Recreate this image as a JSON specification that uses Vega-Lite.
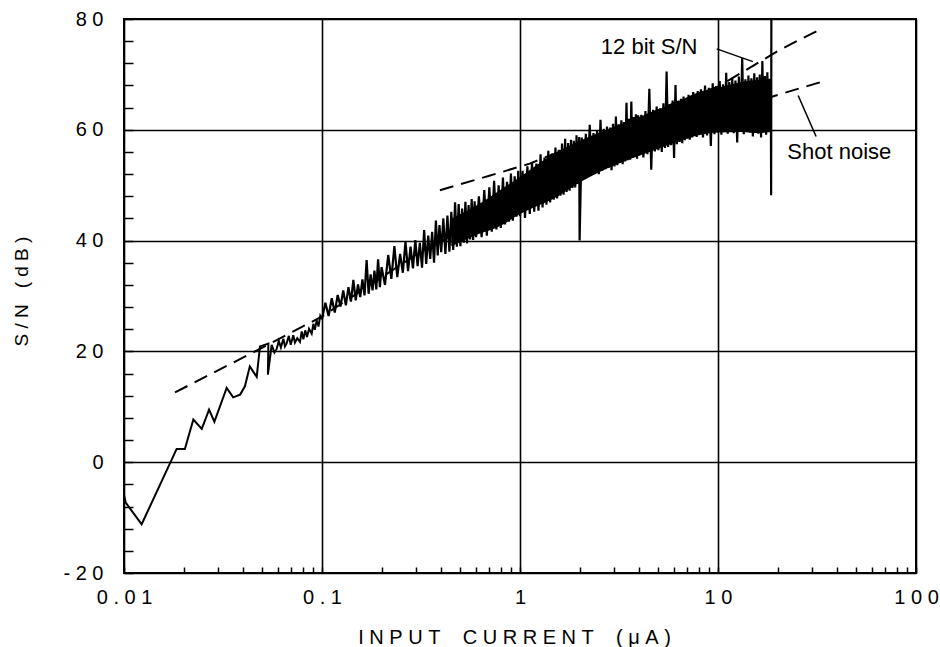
{
  "$schema": "https://vega.github.io/schema/vega-lite/v6.json",
  "width": 792,
  "height": 554,
  "autosize": "none",
  "padding": {"left": 124, "top": 19, "right": 24, "bottom": 74},
  "background": "white",
  "config": {
    "view": {"stroke": "black", "strokeWidth": 2},
    "font": "Liberation Sans",
    "axis": {"labelFont": "Liberation Sans", "titleFont": "Liberation Sans", "labelColor": "black", "titleColor": "black", "titleFontWeight": "normal", "domain": false}
  },
  "datasets": {
    "trace_low": [
      {"x":0.0100,"y":-5.9},{"x":0.0102,"y":-7.3},{"x":0.01228,"y":-11.2},{"x":0.01845,"y":2.4},{"x":0.0203,"y":2.4},{"x":0.0224,"y":7.7},{"x":0.0247,"y":6.0},{"x":0.0269,"y":9.5},{"x":0.0286,"y":7.3},{"x":0.0330,"y":13.4},{"x":0.0356,"y":11.7},{"x":0.0386,"y":12.2},{"x":0.0408,"y":13.7},{"x":0.0432,"y":17.3},{"x":0.0468,"y":15.4},{"x":0.0486,"y":20.9},{"x":0.0536,"y":21.4},{"x":0.0533,"y":15.8},{"x":0.0557,"y":21.2},{"x":0.0575,"y":19.8},{"x":0.0590,"y":20.4},{"x":0.0605,"y":21.9},{"x":0.0620,"y":20.7},{"x":0.0638,"y":22.3},{"x":0.0650,"y":20.9},{"x":0.0662,"y":21.4},{"x":0.0680,"y":22.8},{"x":0.0695,"y":21.2},{"x":0.0716,"y":22.9},{"x":0.0730,"y":21.6},{"x":0.0750,"y":22.4},{"x":0.0774,"y":21.7},{"x":0.0790,"y":23.6},{"x":0.0805,"y":22.2},{"x":0.0823,"y":23.8},{"x":0.0840,"y":22.6},{"x":0.0860,"y":24.1},{"x":0.0887,"y":23.2},{"x":0.0905,"y":25.0},{"x":0.0920,"y":23.9},{"x":0.0940,"y":25.6},{"x":0.0960,"y":24.5},{"x":0.0980,"y":26.4},{"x":0.1000,"y":25.8}
    ],
    "trace_high": [
      {"x":0.1000,"y":25.8},
      {"x":0.104,"y":28.8},{"x":0.108,"y":26.4},{"x":0.112,"y":29.6},{"x":0.116,"y":27.0},{"x":0.120,"y":30.2},{"x":0.124,"y":28.1},{"x":0.128,"y":31.0},{"x":0.132,"y":28.3},{"x":0.136,"y":31.6},{"x":0.140,"y":29.0},{"x":0.144,"y":32.9},{"x":0.148,"y":29.2},{"x":0.152,"y":32.1},{"x":0.156,"y":29.8},{"x":0.160,"y":33.0},{"x":0.164,"y":30.1},{"x":0.168,"y":36.5},{"x":0.172,"y":30.4},{"x":0.176,"y":33.9},{"x":0.180,"y":31.0},{"x":0.184,"y":34.6},{"x":0.188,"y":31.2},{"x":0.192,"y":36.6},{"x":0.196,"y":31.6},{"x":0.200,"y":35.2},
      {"x":0.208,"y":32.0},{"x":0.216,"y":37.4},{"x":0.224,"y":33.1},{"x":0.232,"y":39.0},{"x":0.240,"y":33.4},{"x":0.248,"y":37.6},{"x":0.256,"y":34.2},{"x":0.264,"y":39.8},{"x":0.272,"y":34.5},{"x":0.280,"y":38.9},{"x":0.288,"y":35.0},{"x":0.296,"y":40.1},{"x":0.304,"y":35.4},{"x":0.312,"y":39.6},{"x":0.320,"y":35.1},{"x":0.328,"y":41.9},{"x":0.336,"y":35.8},{"x":0.344,"y":40.9},{"x":0.352,"y":36.7},{"x":0.360,"y":41.6},{"x":0.368,"y":36.0},{"x":0.376,"y":43.6},{"x":0.384,"y":37.3},{"x":0.392,"y":42.8},{"x":0.400,"y":37.9},
      {"x":0.41,"y":44.0},{"x":0.42,"y":37.6},{"x":0.43,"y":44.5},{"x":0.44,"y":38.0},{"x":0.45,"y":45.2},{"x":0.46,"y":38.3},{"x":0.47,"y":46.9},{"x":0.48,"y":38.9},{"x":0.49,"y":46.6},{"x":0.50,"y":39.0},{"x":0.51,"y":45.8},{"x":0.52,"y":39.6},{"x":0.53,"y":47.0},{"x":0.54,"y":39.5},{"x":0.55,"y":46.4},{"x":0.56,"y":40.2},{"x":0.57,"y":47.5},{"x":0.58,"y":40.1},{"x":0.59,"y":47.1},{"x":0.60,"y":40.6},
      {"x":0.62,"y":48.0},{"x":0.64,"y":40.6},{"x":0.66,"y":49.1},{"x":0.68,"y":40.9},{"x":0.70,"y":49.6},{"x":0.72,"y":41.6},{"x":0.74,"y":50.8},{"x":0.76,"y":42.0},{"x":0.78,"y":50.0},{"x":0.80,"y":42.3},{"x":0.82,"y":51.4},{"x":0.84,"y":42.9},{"x":0.86,"y":50.6},{"x":0.88,"y":43.4},{"x":0.90,"y":52.1},{"x":0.92,"y":43.6},{"x":0.94,"y":51.6},{"x":0.96,"y":44.3},{"x":0.98,"y":52.6},{"x":1.00,"y":44.4},
      {"x":1.03,"y":52.6},{"x":1.06,"y":44.1},{"x":1.09,"y":53.4},{"x":1.12,"y":44.8},{"x":1.15,"y":54.1},{"x":1.18,"y":45.2},{"x":1.21,"y":53.9},{"x":1.24,"y":45.4},{"x":1.27,"y":55.6},{"x":1.30,"y":46.0},{"x":1.33,"y":55.0},{"x":1.36,"y":46.5},{"x":1.39,"y":56.2},{"x":1.42,"y":46.9},{"x":1.45,"y":55.7},{"x":1.48,"y":47.4},{"x":1.51,"y":56.8},{"x":1.54,"y":47.6},{"x":1.57,"y":56.4},{"x":1.60,"y":48.1},{"x":1.63,"y":57.5},{"x":1.66,"y":48.3},{"x":1.69,"y":58.4},{"x":1.72,"y":48.8},{"x":1.75,"y":57.6},{"x":1.78,"y":49.0},{"x":1.81,"y":58.2},{"x":1.84,"y":49.5},{"x":1.87,"y":58.0},{"x":1.90,"y":49.6},{"x":1.93,"y":59.0},{"x":1.96,"y":50.2},{"x":1.99,"y":58.7},{"x":2.00,"y":40.0},
      {"x":2.05,"y":58.6},{"x":2.10,"y":51.2},{"x":2.15,"y":59.3},{"x":2.20,"y":51.6},{"x":2.25,"y":60.9},{"x":2.30,"y":51.9},{"x":2.35,"y":59.4},{"x":2.40,"y":52.3},{"x":2.45,"y":59.9},{"x":2.50,"y":52.0},{"x":2.55,"y":61.8},{"x":2.60,"y":52.6},{"x":2.65,"y":60.2},{"x":2.70,"y":52.9},{"x":2.75,"y":60.6},{"x":2.80,"y":53.1},{"x":2.85,"y":60.4},{"x":2.90,"y":52.7},{"x":2.95,"y":61.1},{"x":3.00,"y":53.4},{"x":3.05,"y":62.4},{"x":3.10,"y":53.6},{"x":3.15,"y":61.0},{"x":3.20,"y":54.0},{"x":3.25,"y":61.7},{"x":3.30,"y":53.8},{"x":3.35,"y":61.4},{"x":3.40,"y":54.3},{"x":3.45,"y":64.9},{"x":3.50,"y":54.5},{"x":3.55,"y":62.0},{"x":3.60,"y":54.6},{"x":3.65,"y":65.1},{"x":3.70,"y":54.9},{"x":3.75,"y":62.3},{"x":3.80,"y":55.1},{"x":3.85,"y":62.8},{"x":3.90,"y":54.8},{"x":3.95,"y":62.6},{"x":4.00,"y":55.4},
      {"x":4.1,"y":62.7},{"x":4.2,"y":55.0},{"x":4.3,"y":63.4},{"x":4.4,"y":55.6},{"x":4.5,"y":67.4},{"x":4.6,"y":52.8},{"x":4.7,"y":63.6},{"x":4.8,"y":56.1},{"x":4.9,"y":64.2},{"x":5.0,"y":56.3},{"x":5.1,"y":63.9},{"x":5.2,"y":56.0},{"x":5.3,"y":64.8},{"x":5.4,"y":56.7},{"x":5.5,"y":70.5},{"x":5.6,"y":56.9},{"x":5.7,"y":64.6},{"x":5.8,"y":57.2},{"x":5.9,"y":65.3},{"x":6.0,"y":54.9},{"x":6.1,"y":68.1},{"x":6.2,"y":57.4},{"x":6.3,"y":65.0},{"x":6.4,"y":57.8},{"x":6.5,"y":65.6},{"x":6.6,"y":57.6},{"x":6.7,"y":66.0},{"x":6.8,"y":58.1},{"x":6.9,"y":65.4},{"x":7.0,"y":58.4},{"x":7.1,"y":66.3},{"x":7.2,"y":58.2},{"x":7.3,"y":65.9},{"x":7.4,"y":58.6},{"x":7.5,"y":66.8},{"x":7.6,"y":58.9},{"x":7.7,"y":66.1},{"x":7.8,"y":58.7},{"x":7.9,"y":67.0},{"x":8.0,"y":59.1},
      {"x":8.2,"y":67.3},{"x":8.4,"y":58.6},{"x":8.6,"y":68.0},{"x":8.8,"y":59.0},{"x":9.0,"y":67.6},{"x":9.2,"y":57.1},{"x":9.4,"y":68.4},{"x":9.6,"y":59.2},{"x":9.8,"y":67.9},{"x":10.0,"y":59.5},{"x":10.2,"y":68.8},{"x":10.4,"y":59.1},{"x":10.6,"y":68.2},{"x":10.8,"y":59.6},{"x":11.0,"y":70.3},{"x":11.2,"y":59.3},{"x":11.4,"y":68.6},{"x":11.6,"y":59.8},{"x":11.8,"y":69.4},{"x":12.0,"y":59.4},
      {"x":12.25,"y":68.9},{"x":12.5,"y":57.7},{"x":12.75,"y":69.6},{"x":13.0,"y":59.6},{"x":13.25,"y":73.0},{"x":13.5,"y":59.2},{"x":13.75,"y":69.1},{"x":14.0,"y":60.0},{"x":14.25,"y":69.8},{"x":14.5,"y":59.5},{"x":14.75,"y":69.3},{"x":15.0,"y":58.8},{"x":15.25,"y":70.2},{"x":15.5,"y":59.9},{"x":15.75,"y":69.5},{"x":16.0,"y":59.3},{"x":16.25,"y":70.0},{"x":16.5,"y":58.6},{"x":16.75,"y":72.4},{"x":17.0,"y":59.8},{"x":17.25,"y":69.7},{"x":17.5,"y":59.1},{"x":17.75,"y":70.4},{"x":18.0,"y":59.6},{"x":18.25,"y":69.2},{"x":18.5,"y":62.0},{"x":18.55,"y":48.2},{"x":18.6,"y":80.0}
    ],
    "envelope": [
      {"x":0.45,"lo":39.0,"hi":44.0},{"x":0.6,"lo":41.0,"hi":46.3},{"x":0.8,"lo":42.7,"hi":49.2},{"x":1.0,"lo":44.8,"hi":51.5},{"x":1.5,"lo":47.7,"hi":55.8},{"x":2.0,"lo":50.5,"hi":58.0},{"x":3.0,"lo":53.6,"hi":60.6},{"x":4.0,"lo":55.3,"hi":62.3},{"x":6.0,"lo":57.6,"hi":64.8},{"x":8.0,"lo":59.0,"hi":66.8},{"x":10.0,"lo":59.5,"hi":67.6},{"x":13.0,"lo":59.6,"hi":68.6},{"x":16.0,"lo":59.4,"hi":69.0},{"x":18.5,"lo":59.6,"hi":68.5}
    ],
    "theory": [
      {"curve":"12 bit","x":0.394,"y":49.1},{"curve":"12 bit","x":0.7,"y":51.7},{"curve":"12 bit","x":1.12,"y":53.9},{"curve":"12 bit","x":2,"y":57.5},{"curve":"12 bit","x":3.5,"y":61.2},{"curve":"12 bit","x":6,"y":64.8},{"curve":"12 bit","x":10,"y":67.8},{"curve":"12 bit","x":15.1,"y":71.6},{"curve":"12 bit","x":20,"y":74.2},{"curve":"12 bit","x":25,"y":76.0},{"curve":"12 bit","x":31.5,"y":77.8},
      {"curve":"shot","x":0.0181,"y":12.6},{"curve":"shot","x":0.0442,"y":19.7},{"curve":"shot","x":0.1,"y":26.3},{"curve":"shot","x":0.3,"y":37.5},{"curve":"shot","x":1,"y":47.5},{"curve":"shot","x":3,"y":55.5},{"curve":"shot","x":10,"y":62.3},{"curve":"shot","x":19.2,"y":66.1},{"curve":"shot","x":35.1,"y":68.9}
    ],
    "leaders": [
      {"x":9.85,"y":74.6,"x2":15.0,"y2":72.3},
      {"x":25.4,"y":66.2,"x2":31.3,"y2":58.8}
    ],
    "labels": [
      {"x":2.56,"y":73.6,"t":"12 bit S/N"},
      {"x":22.4,"y":54.8,"t":"Shot noise"}
    ]
  },
  "layer": [
    {
      "data": {"name": "trace_low"},
      "mark": {"type": "line", "color": "black", "strokeWidth": 2},
      "encoding": {
        "x": {
          "field": "x", "type": "quantitative",
          "scale": {"type": "log", "domain": [0.01, 100], "nice": false},
          "axis": {
            "values": [0.01,0.02,0.03,0.04,0.05,0.06,0.07,0.08,0.09,0.1,0.2,0.3,0.4,0.5,0.6,0.7,0.8,0.9,1,2,3,4,5,6,7,8,9,10,20,30,40,50,60,70,80,90,100],
            "tickCount": 200,
            "labelExpr": "abs(log(datum.value)/LN10 - round(log(datum.value)/LN10)) < 0.001 ? join(split('' + datum.value, ''), ' ') : ''",
            "labelOverlap": false,
            "labelFlush": false,
            "labelFontSize": 20,
            "labelPadding": 20,
            "grid": true,
            "gridColor": "black",
            "gridWidth": 1.6,
            "gridOpacity": {"condition": {"test": "abs(log(datum.value)/LN10 - round(log(datum.value)/LN10)) < 0.001", "value": 1}, "value": 0},
            "tickSize": -6,
            "tickColor": "black",
            "tickWidth": 1.5,
            "title": "I\u00a0N\u00a0P\u00a0U\u00a0T\u00a0\u00a0\u00a0\u00a0C\u00a0U\u00a0R\u00a0R\u00a0E\u00a0N\u00a0T\u00a0\u00a0\u00a0\u00a0(\u00a0μ\u00a0A\u00a0)",
            "titleFontSize": 20,
            "titleX": 390,
            "titleY": 70,
            "titleAlign": "center",
            "titleBaseline": "alphabetic"
          }
        },
        "y": {
          "field": "y", "type": "quantitative",
          "scale": {"domain": [-20, 80], "nice": false},
          "axis": {
            "values": [-20,-16,-12,-8,-4,0,4,8,12,16,20,24,28,32,36,40,44,48,52,56,60,64,68,72,76,80],
            "tickCount": 200,
            "labelExpr": "datum.value % 20 === 0 ? join(split('' + datum.value, ''), ' ') : ''",
            "labelOverlap": false,
            "labelFlush": false,
            "labelFontSize": 20,
            "labelPadding": 30,
            "grid": true,
            "gridColor": "black",
            "gridWidth": 1.6,
            "gridOpacity": {"condition": {"test": "datum.value % 20 === 0", "value": 1}, "value": 0},
            "tickSize": -9,
            "tickColor": "black",
            "tickWidth": 1.5,
            "title": "S\u00a0/\u00a0N\u00a0\u00a0\u00a0(\u00a0d\u00a0B\u00a0)",
            "titleFontSize": 19,
            "titleAngle": -90,
            "titleX": -103,
            "titleY": 272,
            "titleAlign": "center",
            "titleBaseline": "middle"
          }
        },
        "order": {"value": null}
      }
    },
    {
      "data": {"name": "envelope"},
      "mark": {"type": "area", "color": "black", "opacity": 1, "interpolate": "monotone"},
      "encoding": {
        "x": {"field": "x", "type": "quantitative"},
        "y": {"field": "lo", "type": "quantitative"},
        "y2": {"field": "hi"}
      }
    },
    {
      "data": {"name": "trace_high"},
      "mark": {"type": "line", "color": "black", "strokeWidth": 2.2},
      "encoding": {
        "x": {"field": "x", "type": "quantitative"},
        "y": {"field": "y", "type": "quantitative"},
        "order": {"value": null}
      }
    },
    {
      "data": {"name": "theory"},
      "mark": {"type": "line", "color": "black", "strokeWidth": 2, "strokeDash": [14, 8]},
      "encoding": {
        "x": {"field": "x", "type": "quantitative"},
        "y": {"field": "y", "type": "quantitative"},
        "detail": {"field": "curve"}
      }
    },
    {
      "data": {"name": "leaders"},
      "mark": {"type": "rule", "color": "black", "strokeWidth": 1.5},
      "encoding": {
        "x": {"field": "x", "type": "quantitative"},
        "y": {"field": "y", "type": "quantitative"},
        "x2": {"field": "x2"},
        "y2": {"field": "y2"}
      }
    },
    {
      "data": {"name": "labels"},
      "mark": {"type": "text", "align": "left", "baseline": "alphabetic", "fontSize": 22, "font": "Liberation Sans", "color": "black"},
      "encoding": {
        "x": {"field": "x", "type": "quantitative"},
        "y": {"field": "y", "type": "quantitative"},
        "text": {"field": "t"}
      }
    }
  ]
}
